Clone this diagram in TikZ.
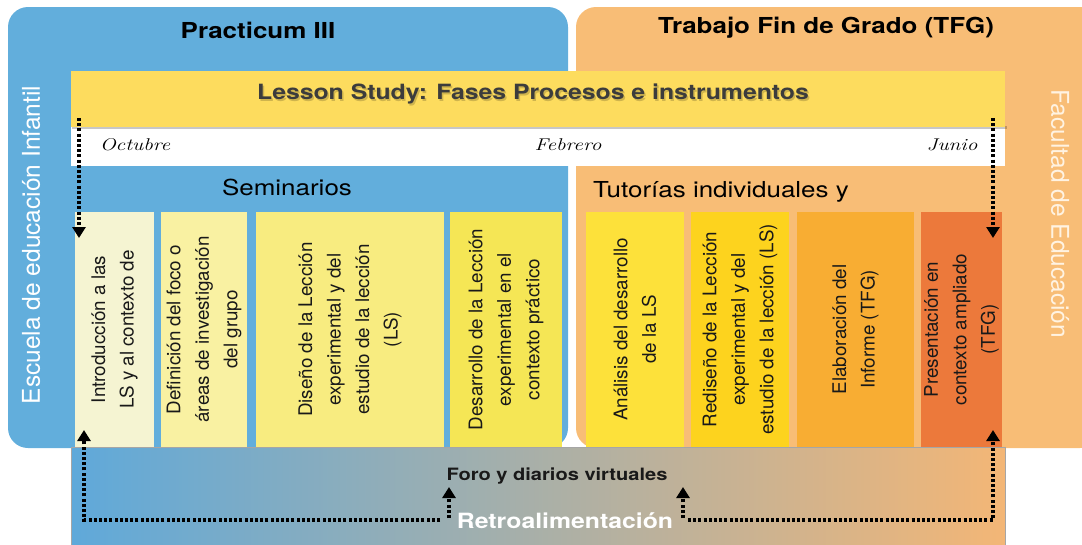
\documentclass[tikz,border=0pt]{standalone}
\usepackage{fontspec}
\usetikzlibrary{arrows.meta}
\newfontfamily\hv{TeX Gyre Heros}
\newfontfamily\hvw[FakeStretch=1.18]{TeX Gyre Heros}
\newfontfamily\hand[FakeStretch=1.25]{Latin Modern Roman}

\definecolor{panelblue}{HTML}{62AEDC}
\definecolor{panelorange}{HTML}{F8BD76}
\definecolor{bandyellow}{HTML}{FDDC5E}
\definecolor{stageA}{HTML}{F5F4D2}
\definecolor{stageB}{HTML}{F9F1A2}
\definecolor{stageC}{HTML}{F8EC80}
\definecolor{stageD}{HTML}{F5E655}
\definecolor{stageE}{HTML}{FDE13A}
\definecolor{stageF}{HTML}{FDD31E}
\definecolor{stageG}{HTML}{F8AD33}
\definecolor{stageH}{HTML}{EC793B}
\definecolor{foroL}{HTML}{5FA9DA}
\definecolor{foroM}{HTML}{B0B7A8}
\definecolor{foroR}{HTML}{F3B676}
\definecolor{facultad}{HTML}{FFF3E2}
\definecolor{lstext}{HTML}{3C3C3C}

\begin{document}
\begin{tikzpicture}[x=1pt,y=-1pt,
  title/.style={font=\hvw\bfseries\fontsize{22}{26}\selectfont, anchor=base, inner sep=0pt},
  heading/.style={font=\hvw\fontsize{22}{26}\selectfont, anchor=base, inner sep=0pt},
  side/.style={font=\hv\fontsize{24.5}{28}\selectfont, inner sep=0pt},
  month/.style={font=\hand\itshape\fontsize{17}{19}\selectfont, anchor=base, inner sep=0pt},
  stage/.style={rotate=90, minimum width=235pt, inner sep=1pt, align=center,
    font=\hv\fontsize{18.8}{28.5}\selectfont, text=black!90},
  feedback/.style={line width=3.6pt, dash pattern=on 3pt off 2.2pt,
    -{Triangle[width=13pt,length=11pt]}}
]
\useasboundingbox (0,0) rectangle (1082,544);
\clip (0,0) rectangle (1082,544);

% the two institutional panels
\fill[panelblue, rounded corners=20pt] (8,7) rectangle (568,448);
\fill[panelorange, rounded corners=20pt] (576,7) rectangle (1100,448);

\node[title] (practicum) at (258,38) {Practicum III};
\node[title] (tfg) at (826,33.5) {Trabajo Fin de Grado (TFG)};

\node[side, text=white, rotate=90] (escuela) at (31,245) {Escuela de educación Infantil};
\node[side, text=facultad, rotate=-90] (facultad) at (1060,214) {Facultad de Educación};

% timeline band
\fill[white] (71,127) rectangle (1005,166);
\fill[black, opacity=0.22] (72,126) rectangle (1007,129);
\fill[bandyellow] (71,71) rectangle (1005,126.5);
\node[title, font=\hvw\bfseries\fontsize{21}{25}\selectfont, text=black, opacity=0.18]
  at (534.5,101.5) {Lesson Study: Fases Procesos e instrumentos};
\node[title, font=\hvw\bfseries\fontsize{21}{25}\selectfont, text=lstext]
  (lesson) at (533,99.5) {Lesson Study: Fases Procesos e instrumentos};

\node[month] (oct) at (135,150) {Octubre};
\node[month] (feb) at (568,150) {Febrero};
\node[month] (jun) at (952,150) {Junio};

\node[heading] (seminarios) at (287,195) {Seminarios};
\node[heading] (tutorias) at (721,197) {Tutorías individuales y};

% phases of the Lesson Study
\node[stage, fill=stageA, minimum height=79pt] (s1) at (114.5,329.5)
  {Introducción a las\\LS y al contexto de};
\node[stage, fill=stageB, minimum height=86pt] (s2) at (204,329.5)
  {Definición del foco o\\áreas de investigación\\del grupo};
\node[stage, fill=stageC, minimum height=188pt] (s3) at (350,329.5)
  {Diseño de la Lección\\experimental y del\\estudio de la lección\\(LS)};
\node[stage, fill=stageD, minimum height=112pt] (s4) at (506,329.5)
  {Desarrollo de la Lección\\experimental en el\\contexto práctico};
\node[stage, fill=stageE, minimum height=98pt] (s5) at (635,329.5)
  {Análisis del desarrollo\\de la LS};
\node[stage, fill=stageF, minimum height=98pt] (s6) at (740,329.5)
  {Rediseño de la Lección\\experimental y del\\estudio de la lección (LS)};
\node[stage, fill=stageG, minimum height=117pt] (s7) at (855.5,329.5)
  {Elaboración del\\Informe (TFG)};
\node[stage, fill=stageH, minimum height=81pt] (s8) at (961.5,329.5)
  {Presentación en\\contexto ampliado\\(TFG)};

% forum band
\shade[left color=foroL, middle color=foroM, right color=foroR] (71,447) rectangle (1005,550);
\draw[gray!70, line width=0.6pt] (71,550) -- (71,447) -- (1005,447) -- (1005,550);

\node[title, font=\hvw\bfseries\fontsize{17}{20}\selectfont, text=black!90] (foro) at (557,480) {Foro y diarios virtuales};
\node[title, font=\hvw\bfseries\fontsize{21}{24}\selectfont, text=white] (retro) at (565,528) {Retroalimentación};

% timeline arrows into the first and last phase
\coordinate (octtop) at (79,118);
\coordinate (octend) at (79,238);
\coordinate (juntop) at (993,118);
\coordinate (junend) at (993,238);
\draw[feedback] (octtop) -- (octend);
\draw[feedback] (juntop) -- (junend);

% feedback loops from the forum
\coordinate (fbLa) at (440,520);
\coordinate (fbLb) at (84,520);
\coordinate (fbLc) at (84,430);
\coordinate (fbRa) at (688,520);
\coordinate (fbRb) at (993,520);
\coordinate (fbRc) at (993,430);
\coordinate (upLa) at (449,518);
\coordinate (upLb) at (449,487);
\coordinate (upRa) at (683,518);
\coordinate (upRb) at (683,487);
\draw[feedback] (fbLa) -- (fbLb) -- (fbLc);
\draw[feedback] (fbRa) -- (fbRb) -- (fbRc);
\draw[feedback] (upLa) -- (upLb);
\draw[feedback] (upRa) -- (upRb);
\end{tikzpicture}
\end{document}
